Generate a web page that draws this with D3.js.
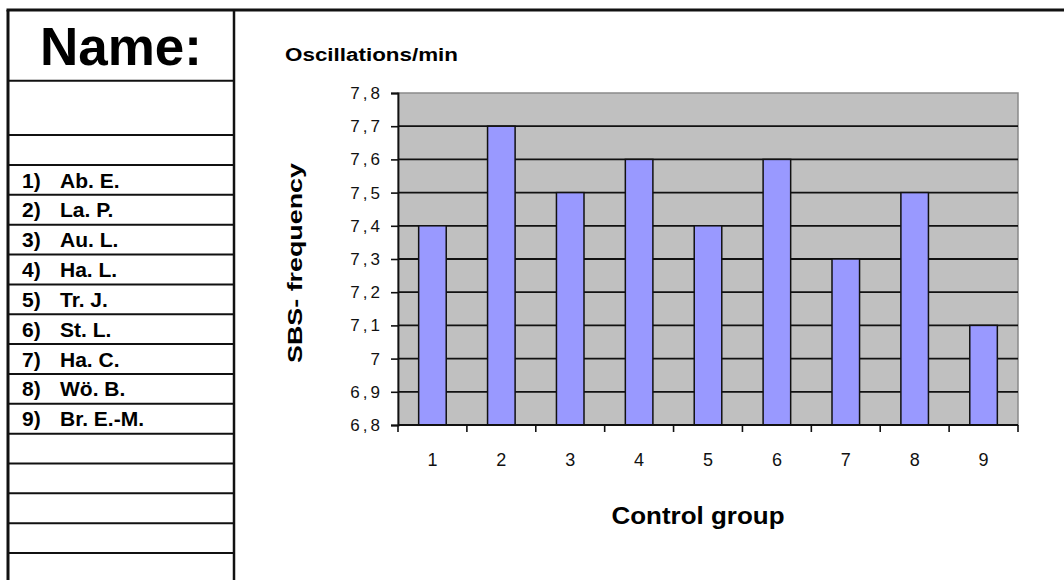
<!DOCTYPE html>
<html>
<head>
<meta charset="utf-8">
<script src="https://cdn.jsdelivr.net/npm/d3@7"></script>
<style>
  html, body { margin: 0; padding: 0; background: #fff; }
  svg { display: block; font-family: Arial, "Liberation Sans", sans-serif; }
</style>
</head>
<body>
<svg id="sheet" width="1064" height="580"></svg>
<script>
// Participants (control group) and their SBS frequency in oscillations per minute
const categories = ["1", "2", "3", "4", "5", "6", "7", "8", "9"];
const names = ["Ab. E.", "La. P.", "Au. L.", "Ha. L.", "Tr. J.", "St. L.", "Ha. C.", "Wö. B.", "Br. E.-M."];
const frequency = [7.4, 7.7, 7.5, 7.6, 7.4, 7.6, 7.3, 7.5, 7.1];
const yTicks = [6.8, 6.9, 7.0, 7.1, 7.2, 7.3, 7.4, 7.5, 7.6, 7.7, 7.8];
const emptyRows = 5;

const svg = d3.select("#sheet");

// ---------- Name sheet on the left ----------
const table = svg.append("g");
const tLeft = 8, tRight = 234, tTop = 10;
const rowStart = 165, rowH = 29.85;

table.append("text")
  .attr("x", (tLeft + tRight) / 2).attr("y", 65)
  .attr("text-anchor", "middle")
  .attr("font-weight", "bold").attr("font-size", 53)
  .text("Name:");

const rowLines = [80.7, 135];
d3.range(names.length + emptyRows).forEach(i => rowLines.push(rowStart + i * rowH));
table.selectAll("line.row").data(rowLines).join("line")
  .attr("class", "row")
  .attr("x1", tLeft).attr("x2", tRight)
  .attr("y1", d => d).attr("y2", d => d)
  .attr("stroke", "#111").attr("stroke-width", 2);

const rows = table.selectAll("g.entry").data(names).join("g")
  .attr("class", "entry")
  .attr("transform", (d, i) => `translate(0,${rowStart + i * rowH + 22.5})`)
  .attr("font-weight", "bold").attr("font-size", 21);
rows.append("text").attr("x", 22).text((d, i) => `${i + 1})`);
rows.append("text").attr("x", 60).text(d => d);

// sheet frame
svg.append("line").attr("x1", tLeft - 1.5).attr("x2", 1064).attr("y1", tTop).attr("y2", tTop)
  .attr("stroke", "#111").attr("stroke-width", 3);
svg.append("line").attr("x1", tLeft).attr("x2", tLeft).attr("y1", tTop).attr("y2", 580)
  .attr("stroke", "#111").attr("stroke-width", 3);
svg.append("line").attr("x1", tRight).attr("x2", tRight).attr("y1", tTop).attr("y2", 580)
  .attr("stroke", "#111").attr("stroke-width", 2.5);

// ---------- Bar chart ----------
const plot = { left: 398, right: 1018, top: 93, bottom: 425 };

const x = d3.scaleBand().domain(categories).range([plot.left, plot.right]).padding(0);
const y = d3.scaleLinear().domain([6.8, 7.8]).range([plot.bottom, plot.top]);
const fmt = v => String(+v.toFixed(1)).replace(".", ",");

const chart = svg.append("g");

// plot area
chart.append("rect")
  .attr("x", plot.left).attr("y", plot.top)
  .attr("width", plot.right - plot.left).attr("height", plot.bottom - plot.top)
  .attr("fill", "#c0c0c0").attr("stroke", "#8a8a8a").attr("stroke-width", 1.5);

// horizontal gridlines
chart.selectAll("line.grid").data(yTicks.slice(1, -1)).join("line")
  .attr("class", "grid")
  .attr("x1", plot.left).attr("x2", plot.right)
  .attr("y1", d => y(d)).attr("y2", d => y(d))
  .attr("stroke", "#111").attr("stroke-width", 1.8);

// bars
const barW = x.bandwidth() * 0.4;
chart.selectAll("rect.bar").data(frequency).join("rect")
  .attr("class", "bar")
  .attr("x", (d, i) => x(categories[i]) + (x.bandwidth() - barW) / 2)
  .attr("y", d => y(d))
  .attr("width", barW)
  .attr("height", d => y(6.8) - y(d))
  .attr("fill", "#9999ff").attr("stroke", "#111").attr("stroke-width", 1.5);

// y axis
const yAxis = chart.append("g")
  .attr("transform", `translate(${plot.left},0)`)
  .call(d3.axisLeft(y).tickValues(yTicks).tickFormat(fmt).tickSize(7).tickPadding(8));
yAxis.select(".domain").attr("stroke", "#111").attr("stroke-width", 1.8);
yAxis.selectAll(".tick line").attr("stroke", "#111").attr("stroke-width", 1.6);
yAxis.selectAll(".tick text")
  .attr("font-family", "Arial, 'Liberation Sans', sans-serif")
  .attr("font-size", 17).attr("fill", "#111")
  .attr("letter-spacing", "3px");

// x axis: ticks sit between categories
const xAxisG = chart.append("g").attr("transform", `translate(0,${plot.bottom})`);
xAxisG.append("line")
  .attr("x1", plot.left).attr("x2", plot.right)
  .attr("stroke", "#111").attr("stroke-width", 1.8);
const bounds = categories.map(c => x(c)).concat([plot.right]);
xAxisG.selectAll("line.tick").data(bounds).join("line")
  .attr("class", "tick")
  .attr("x1", d => d).attr("x2", d => d).attr("y1", 0).attr("y2", 7)
  .attr("stroke", "#111").attr("stroke-width", 1.6);
xAxisG.selectAll("text").data(categories).join("text")
  .attr("x", d => x(d) + x.bandwidth() / 2).attr("y", 41)
  .attr("text-anchor", "middle")
  .attr("font-size", 18).attr("fill", "#111")
  .text(d => d);

// titles
chart.append("text")
  .attr("x", 285).attr("y", 61)
  .attr("font-weight", "bold").attr("font-size", 18)
  .attr("textLength", 173).attr("lengthAdjust", "spacingAndGlyphs")
  .text("Oscillations/min");

chart.append("text")
  .attr("transform", "translate(302,263) rotate(-90)")
  .attr("text-anchor", "middle")
  .attr("font-weight", "bold").attr("font-size", 21)
  .attr("textLength", 200).attr("lengthAdjust", "spacingAndGlyphs")
  .text("SBS- frequency");

chart.append("text")
  .attr("x", 698).attr("y", 524)
  .attr("text-anchor", "middle")
  .attr("font-weight", "bold").attr("font-size", 24)
  .attr("textLength", 173).attr("lengthAdjust", "spacingAndGlyphs")
  .text("Control group");
</script>
</body>
</html>
